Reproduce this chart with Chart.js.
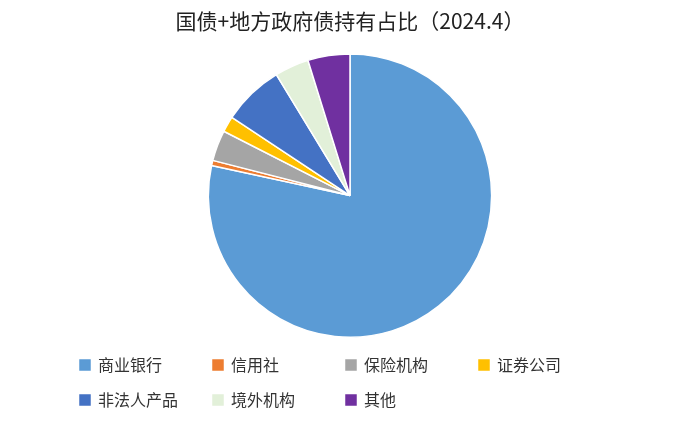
<!DOCTYPE html>
<html><head><meta charset="utf-8">
<script src="https://cdn.jsdelivr.net/npm/chart.js@4/dist/chart.umd.min.js"></script>
<style>html,body{margin:0;background:#fff}#wrap{width:700px;height:424px}</style>
</head><body><div id="wrap"><canvas id="c"></canvas></div>
<script>
// holders and their share (%)
var labels = ['商业银行', '信用社', '保险机构', '证券公司', '非法人产品', '境外机构', '其他'];
var shares = [78.4, 0.6, 3.5, 1.8, 7.0, 3.9, 4.8];
var colors = ['#5B9BD5', '#ED7D31', '#A5A5A5', '#FFC000', '#4472C4', '#E2F0D9', '#7030A0'];

var font = '"Noto Sans CJK SC", sans-serif';
// pad legend texts with full-width spaces so items line up in columns
function padLabel(t) {
    var n = Math.max(0, 6 - t.length);
    return t + '　'.repeat(n);
}
new Chart(document.getElementById('c'), {
    type: 'pie',
    data: {
        labels: labels,
        datasets: [{ data: shares, backgroundColor: colors, borderColor: '#fff', borderWidth: 1.5 }]
    },
    options: {
        responsive: true,
        maintainAspectRatio: false,
        animation: false,
        layout: { padding: { top: 0, bottom: 6, left: 61, right: 61 } },
        plugins: {
            title: {
                display: true,
                text: '国债+地方政府债持有占比（2024.4）',
                color: '#222',
                font: { family: font, size: 21, weight: 'normal' },
                padding: { top: 8, bottom: 20 }
            },
            legend: {
                position: 'bottom',
                align: 'start',
                labels: {
                    color: '#333',
                    font: { family: font, size: 16 },
                    boxWidth: 10, boxHeight: 10,
                    padding: 19,
                    generateLabels: function (chart) {
                        var items = Chart.overrides.pie.plugins.legend.labels.generateLabels(chart);
                        items.forEach(function (it) {
                            it.text = padLabel(it.text);
                            it.strokeStyle = it.fillStyle;
                        });
                        return items;
                    }
                }
            },
            tooltip: { enabled: false }
        }
    }
});
</script></body></html>
